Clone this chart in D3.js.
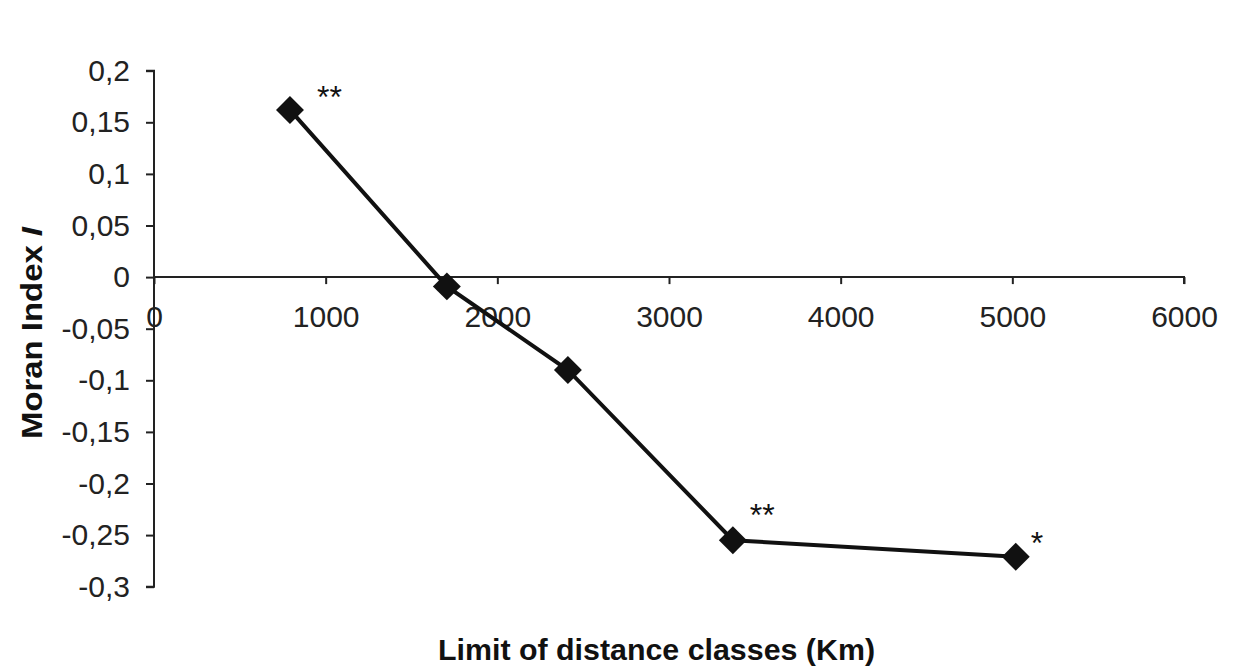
<!DOCTYPE html>
<html><head><meta charset="utf-8">
<script src="https://cdn.jsdelivr.net/npm/d3@7"></script>
<style>html,body{margin:0;padding:0;background:#fff;}svg{display:block;}</style>
</head><body>
<script>
const distances = [792, 1706, 2411, 3372, 5020];
const moranI = [0.162, -0.009, -0.090, -0.255, -0.271];
const significance = ["**", "", "", "**", "*"];
const xTicks = [0, 1000, 2000, 3000, 4000, 5000, 6000];
const yTicks = [0.2, 0.15, 0.1, 0.05, 0, -0.05, -0.1, -0.15, -0.2, -0.25, -0.3];

const W = 1238, H = 666;
const svg = d3.select("body").append("svg").attr("width", W).attr("height", H);
const x = d3.scaleLinear().domain([0, 6000]).range([154, 1184]);
const y = d3.scaleLinear().domain([-0.3, 0.2]).range([586.7, 70.7]);
const fmt = v => String(v).replace(".", ",");
const font = "'Liberation Sans', Arial, sans-serif";

// y axis
const yAxis = svg.append("g").attr("transform", `translate(${x(0)},0)`)
  .call(d3.axisLeft(y).tickValues(yTicks).tickFormat(fmt).tickSize(8).tickPadding(16));
yAxis.select(".domain").attr("stroke", "#222").attr("stroke-width", 2).attr("d", `M-8,${y(0.2)}H0V${y(-0.3)}H-8`);
yAxis.selectAll(".tick line").attr("stroke", "#222").attr("stroke-width", 2);
yAxis.selectAll(".tick text").attr("font-family", font).attr("font-size", 30).attr("fill", "#222");

// x axis
const xAxis = svg.append("g").attr("transform", `translate(0,${y(0)})`)
  .call(d3.axisBottom(x).tickValues(xTicks).tickFormat(d => String(d)).tickSize(7).tickPadding(22));
xAxis.select(".domain").attr("stroke", "#222").attr("stroke-width", 2).attr("d", `M${x(0)},0H${x(6000)}V7`);
xAxis.selectAll(".tick line").attr("stroke", "#222").attr("stroke-width", 2);
xAxis.selectAll(".tick text").attr("font-family", font).attr("font-size", 30).attr("fill", "#222");

const pts = distances.map((d, i) => ({x: d, y: moranI[i], s: significance[i], i}));

svg.append("path").datum(pts)
  .attr("d", d3.line().x(d => x(d.x)).y(d => y(d.y)))
  .attr("fill", "none").attr("stroke", "#111").attr("stroke-width", 4);

svg.selectAll(".mk").data(pts).enter().append("path")
  .attr("d", d3.symbol(d3.symbolSquare, 390)())
  .attr("transform", d => `translate(${x(d.x)},${y(d.y)}) rotate(45)`)
  .attr("fill", "#111");

// annotation placement (pixel offsets relative to marker)
const sigDx = [27, 0, 0, 17, 15], sigDy = [-2, 0, 0, -14, -3];
svg.selectAll(".sig").data(pts.filter(d => d.s)).enter().append("text")
  .attr("x", d => x(d.x) + sigDx[d.i]).attr("y", d => y(d.y) + sigDy[d.i])
  .attr("font-family", font).attr("font-size", 32).attr("fill", "#111")
  .text(d => d.s);

svg.append("text").attr("x", 438).attr("y", 660)
  .attr("textLength", 437).attr("lengthAdjust", "spacingAndGlyphs")
  .attr("font-family", font).attr("font-size", 29).attr("font-weight", "bold").attr("fill", "#111")
  .text("Limit of distance classes (Km)");

const yt = svg.append("text").attr("transform", "translate(42,439) rotate(-90)")
  .attr("textLength", 212).attr("lengthAdjust", "spacingAndGlyphs")
  .attr("font-family", font).attr("font-size", 29).attr("font-weight", "bold").attr("fill", "#111");
yt.append("tspan").text("Moran Index ");
yt.append("tspan").attr("font-style", "italic").text("I");
</script>
</body></html>
